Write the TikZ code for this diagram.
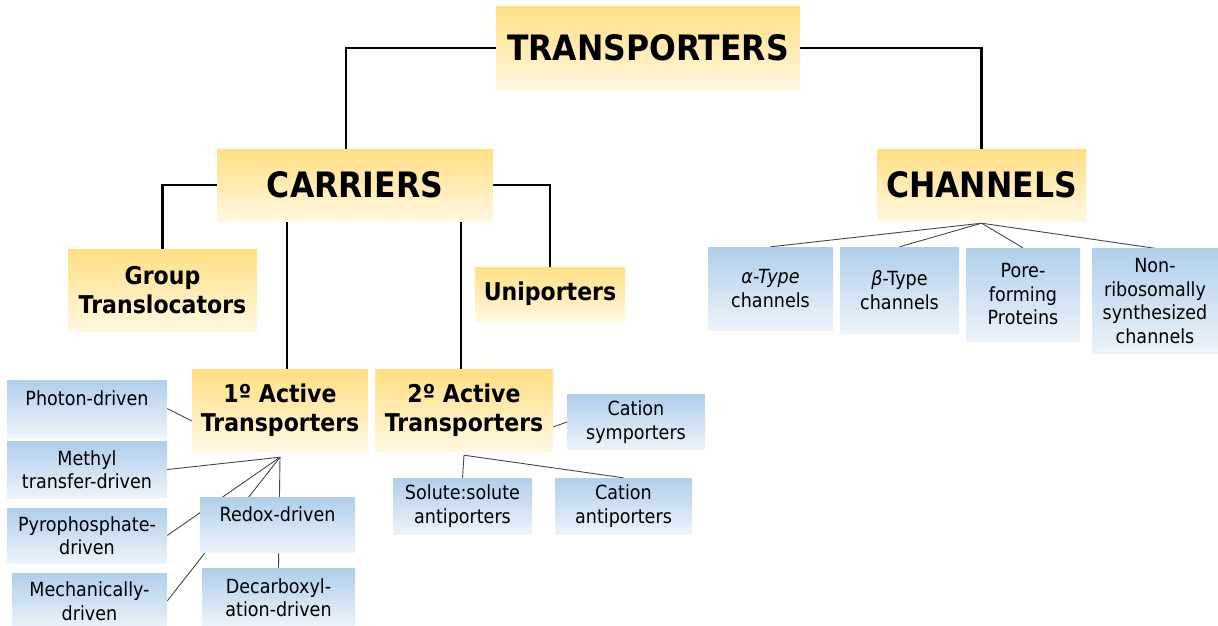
\documentclass[tikz,border=0pt]{standalone}
\usepackage{fontspec}
\setmainfont{DejaVu Sans}[FakeStretch=0.9]
\usetikzlibrary{calc}
\definecolor{yelc}{RGB}{255,215,98}
\definecolor{bluc}{RGB}{155,193,229}
\definecolor{linec}{RGB}{70,70,70}
\pgfdeclareverticalshading{yfade}{100bp}{color(0bp)=(white); color(10bp)=(white); color(92bp)=(yelc); color(100bp)=(yelc)}
\pgfdeclareverticalshading{bfade}{100bp}{color(0bp)=(white); color(10bp)=(white); color(92bp)=(bluc); color(100bp)=(bluc)}
\pgfdeclarelayer{bg}
\pgfsetlayers{bg,main}
\tikzset{
  box/.style={inner sep=0pt, align=center},
  ybox/.style={box, shade, shading=yfade},
  bbox/.style={box, shade, shading=bfade, font=\fontsize{19.5}{23.5}\selectfont},
  big/.style={font=\bfseries\fontsize{35}{40}\selectfont},
  mid/.style={font=\bfseries\fontsize{24.5}{29}\selectfont},
  wh/.style 2 args={minimum width=#1pt, minimum height=#2pt},
  mainline/.style={line width=2.6pt, black},
  subline/.style={line width=0.9pt, linec},
}
\begin{document}
\begin{tikzpicture}[x=1pt,y=-1pt]
\useasboundingbox (0,0) rectangle (1218,625);
% yellow boxes
\node[ybox, big, wh={304}{84}] (trans) at (648,48) {TRANSPORTERS};
\node[ybox, big, wh={276}{72}] (carriers) at (355,185) {CARRIERS};
\node[ybox, big, wh={209}{72}] (channels) at (981.5,185) {CHANNELS};
\node[ybox, mid, wh={189}{82}] (group) at (162.5,290) {Group\\Translocators};
\node[ybox, mid, wh={150}{54}] (uni) at (550,294) {Uniporters};
\node[ybox, mid, wh={176}{82}] (act1) at (280,410) {1º Active\\Transporters};
\node[ybox, mid, wh={178}{82}] (act2) at (464,410) {2º Active\\Transporters};
% channel children
\node[bbox, wh={125}{83}] (alpha) at (770.5,288.5) {\textit{α-Type}\\channels};
\node[bbox, wh={119}{86}] (beta) at (899.5,290) {\textit{β}-Type\\channels};
\node[bbox, wh={114}{93}] (pore) at (1023,294.5) {Pore-\\forming\\Proteins};
\node[bbox, wh={126}{105}] (nonr) at (1155,301) {Non-\\ribosomally\\synthesized\\channels};
% 1st active children
\node[bbox, wh={160}{57}, text depth=21pt] (photon) at (87,408.5) {Photon-driven};
\node[bbox, wh={160}{57}] (methyl) at (87,469.5) {Methyl\\transfer-driven};
\node[bbox, wh={160}{55}] (pyro) at (87,535.5) {Pyrophosphate-\\driven};
\node[bbox, wh={155}{56}] (mech) at (89.5,601) {Mechanically-\\driven};
\node[bbox, wh={155}{55}, text depth=21pt] (redox) at (277.5,524.5) {Redox-driven};
\node[bbox, wh={153}{58}] (decarb) at (278.5,597.5) {Decarboxyl-\\ation-driven};
% 2nd active children
\node[bbox, wh={138}{55}] (sym) at (636,422) {Cation\\symporters};
\node[bbox, wh={139}{56}] (solute) at (462.5,506) {Solute:solute\\antiporters};
\node[bbox, wh={137}{56}] (canti) at (623.5,506) {Cation\\antiporters};
\begin{pgfonlayer}{bg}
\draw[mainline] (trans.west) -| ([xshift=-9pt]carriers.north);
\draw[mainline] (trans.east) -| (channels.north);
\draw[mainline] (carriers.west) -| (group.north);
\draw[mainline] (carriers.east) -| (uni.north);
\draw[mainline] ([xshift=7pt]act1.north) -- ([xshift=7pt]act1.north |- carriers.south);
\draw[mainline] ([xshift=-3pt]act2.north) -- ([xshift=-3pt]act2.north |- carriers.south);
\coordinate (h1) at ([yshift=-6pt]act1.south);
\draw[subline] (photon.east) -- ([yshift=-11pt]act1.west);
\draw[subline] (h1) -- (methyl.east);
\draw[subline] (h1) -- (pyro.east);
\draw[subline] (h1) -- (mech.east);
\draw[subline] (h1) -- (decarb.north);
\coordinate (h2) at ([yshift=-4pt]act2.south);
\draw[subline] (h2) -- (solute.north);
\draw[subline] (h2) -- (canti.north);
\draw[subline] ([yshift=-17pt]act2.east) -- (sym.west);
\coordinate (h3) at ([yshift=-2pt]channels.south);
\draw[subline] (h3) -- (alpha.north);
\draw[subline] (h3) -- (beta.north);
\draw[subline] (h3) -- (pore.north);
\draw[subline] (h3) -- (nonr.north);
\end{pgfonlayer}
\end{tikzpicture}
\end{document}
